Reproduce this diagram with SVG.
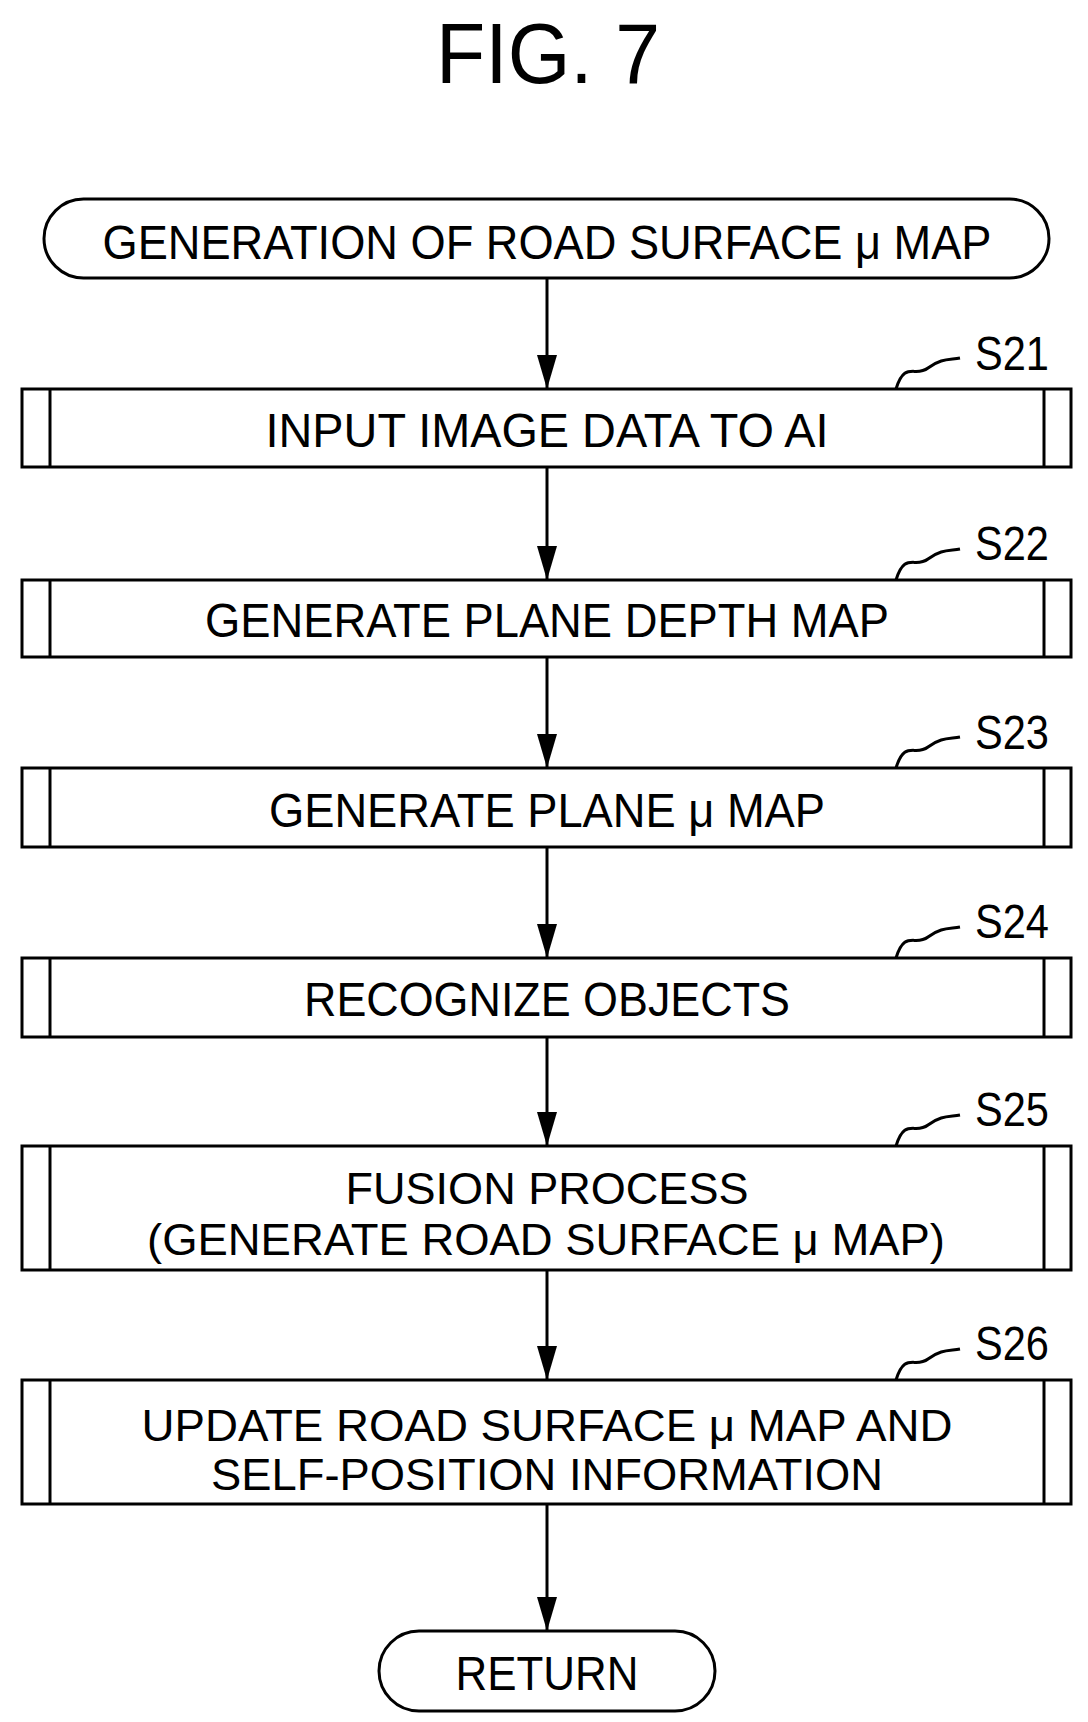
<svg xmlns="http://www.w3.org/2000/svg" width="1088" height="1722" viewBox="0 0 1088 1722">
<style>
.t{font-family:"Liberation Sans",Arial,sans-serif;font-size:48px;fill:#000}
.b{fill:#fff;stroke:#000;stroke-width:3}
.l{stroke:#000;stroke-width:3;fill:none}
</style>
<defs>
<marker id="ah" markerWidth="34" markerHeight="20" refX="34" refY="10" orient="auto" markerUnits="userSpaceOnUse"><path d="M0,0 L34,10 L0,20 Z" fill="#000"/></marker></defs>
<text class="t" x="548" y="83" text-anchor="middle" style="font-size:85px" textLength="224" lengthAdjust="spacingAndGlyphs">FIG. 7</text>
<g id="connectors">
<line class="l" x1="547" y1="278" x2="547" y2="389" marker-end="url(#ah)"/>
<line class="l" x1="547" y1="467" x2="547" y2="580" marker-end="url(#ah)"/>
<line class="l" x1="547" y1="657" x2="547" y2="768" marker-end="url(#ah)"/>
<line class="l" x1="547" y1="847" x2="547" y2="958" marker-end="url(#ah)"/>
<line class="l" x1="547" y1="1037" x2="547" y2="1146" marker-end="url(#ah)"/>
<line class="l" x1="547" y1="1270" x2="547" y2="1380" marker-end="url(#ah)"/>
<line class="l" x1="547" y1="1504" x2="547" y2="1631" marker-end="url(#ah)"/>
</g>
<g id="start"><rect class="b" x="44" y="199" width="1005" height="79" rx="39.5"/>
<text class="t" x="547" y="259" text-anchor="middle" textLength="889" lengthAdjust="spacingAndGlyphs">GENERATION OF ROAD SURFACE μ MAP</text></g>
<g id="s21"><rect class="b" x="22" y="389" width="1049" height="78"/><line class="l" x1="50" y1="389" x2="50" y2="467"/><line class="l" x1="1044" y1="389" x2="1044" y2="467"/>
<text class="t" x="547" y="447" text-anchor="middle" textLength="563" lengthAdjust="spacingAndGlyphs">INPUT IMAGE DATA TO AI</text>
<path class="l" d="M896,389 C905,360 915,378 928,368 S950,360 960,358"/><text class="t" x="975" y="370" textLength="74" lengthAdjust="spacingAndGlyphs">S21</text></g>
<g id="s22"><rect class="b" x="22" y="580" width="1049" height="77"/><line class="l" x1="50" y1="580" x2="50" y2="657"/><line class="l" x1="1044" y1="580" x2="1044" y2="657"/>
<text class="t" x="547" y="637" text-anchor="middle" textLength="684" lengthAdjust="spacingAndGlyphs">GENERATE PLANE DEPTH MAP</text>
<path class="l" d="M896,580 C905,551 915,569 928,559 S950,551 960,549"/><text class="t" x="975" y="560" textLength="74" lengthAdjust="spacingAndGlyphs">S22</text></g>
<g id="s23"><rect class="b" x="22" y="768" width="1049" height="79"/><line class="l" x1="50" y1="768" x2="50" y2="847"/><line class="l" x1="1044" y1="768" x2="1044" y2="847"/>
<text class="t" x="547" y="827" text-anchor="middle" textLength="556" lengthAdjust="spacingAndGlyphs">GENERATE PLANE μ MAP</text>
<path class="l" d="M896,768 C905,739 915,757 928,747 S950,739 960,737"/><text class="t" x="975" y="749" textLength="74" lengthAdjust="spacingAndGlyphs">S23</text></g>
<g id="s24"><rect class="b" x="22" y="958" width="1049" height="79"/><line class="l" x1="50" y1="958" x2="50" y2="1037"/><line class="l" x1="1044" y1="958" x2="1044" y2="1037"/>
<text class="t" x="547" y="1016" text-anchor="middle" textLength="486" lengthAdjust="spacingAndGlyphs">RECOGNIZE OBJECTS</text>
<path class="l" d="M896,958 C905,929 915,947 928,937 S950,929 960,927"/><text class="t" x="975" y="938" textLength="74" lengthAdjust="spacingAndGlyphs">S24</text></g>
<g id="s25"><rect class="b" x="22" y="1146" width="1049" height="124"/><line class="l" x1="50" y1="1146" x2="50" y2="1270"/><line class="l" x1="1044" y1="1146" x2="1044" y2="1270"/>
<text class="t" x="547" y="1204" text-anchor="middle" textLength="403" lengthAdjust="spacingAndGlyphs" style="font-size:45px">FUSION PROCESS</text>
<text class="t" x="546" y="1255" text-anchor="middle" textLength="798" lengthAdjust="spacingAndGlyphs" style="font-size:45px">(GENERATE ROAD SURFACE μ MAP)</text>
<path class="l" d="M896,1146 C905,1117 915,1135 928,1125 S950,1117 960,1115"/><text class="t" x="975" y="1126" textLength="74" lengthAdjust="spacingAndGlyphs">S25</text></g>
<g id="s26"><rect class="b" x="22" y="1380" width="1049" height="124"/><line class="l" x1="50" y1="1380" x2="50" y2="1504"/><line class="l" x1="1044" y1="1380" x2="1044" y2="1504"/>
<text class="t" x="547" y="1441" text-anchor="middle" textLength="811" lengthAdjust="spacingAndGlyphs" style="font-size:45px">UPDATE ROAD SURFACE μ MAP AND</text>
<text class="t" x="547" y="1490" text-anchor="middle" textLength="672" lengthAdjust="spacingAndGlyphs" style="font-size:45px">SELF-POSITION INFORMATION</text>
<path class="l" d="M896,1380 C905,1351 915,1369 928,1359 S950,1351 960,1349"/><text class="t" x="975" y="1360" textLength="74" lengthAdjust="spacingAndGlyphs">S26</text></g>
<g id="end"><rect class="b" x="379" y="1631" width="336" height="80" rx="40"/>
<text class="t" x="547" y="1690" text-anchor="middle" textLength="183" lengthAdjust="spacingAndGlyphs">RETURN</text></g>
</svg>
